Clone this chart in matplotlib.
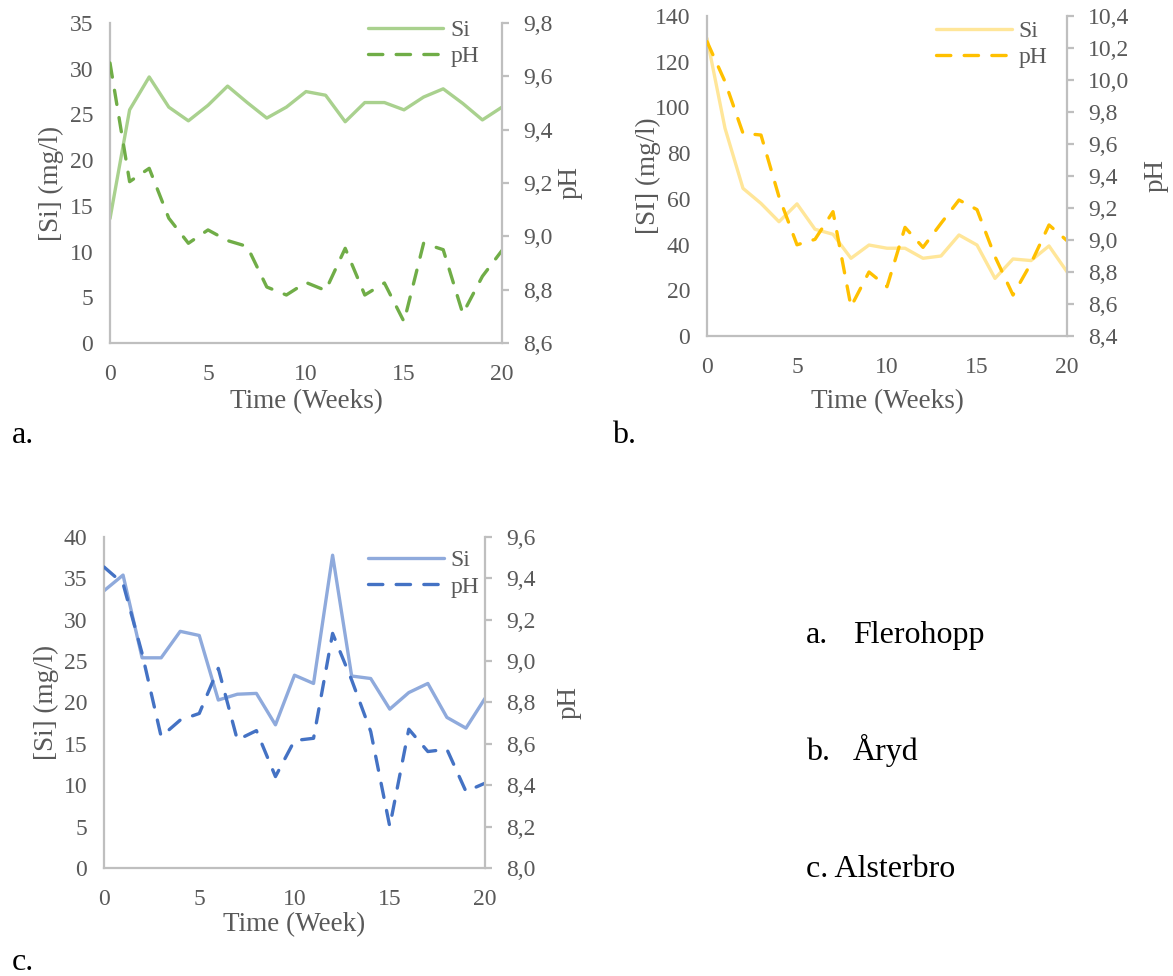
import numpy as np
from matplotlib import pyplot as plt

plt.rcParams['font.family'] = ['Liberation Serif', 'DejaVu Serif']

weeks = np.arange(0, 21)

# Flerohopp
si_a = [13.6, 25.5, 29.1, 25.8, 24.3, 26.0, 28.1, 26.3, 24.6, 25.8, 27.5,
        27.1, 24.2, 26.3, 26.3, 25.5, 26.9, 27.8, 26.2, 24.4, 25.8]
ph_a = [9.65, 9.205, 9.255, 9.068, 8.974, 9.024, 8.984, 8.962, 8.81, 8.78, 8.827,
        8.797, 8.955, 8.78, 8.825, 8.68, 8.974, 8.95, 8.71, 8.85, 8.947]

# Åryd
si_b = [130.2, 90.9, 64.6, 58.0, 50.0, 57.8, 46.7, 44.5, 34.0, 39.8, 38.4,
        38.4, 34.0, 35.0, 44.2, 39.8, 25.2, 33.7, 33.0, 39.4, 28.1]
ph_b = [10.24, 9.99, 9.667, 9.656, 9.27, 8.97, 9.004, 9.177, 8.583, 8.80, 8.708,
        9.079, 8.954, 9.104, 9.25, 9.19, 8.896, 8.656, 8.854, 9.094, 8.996]

# Alsterbro
si_c = [33.5, 35.4, 25.4, 25.4, 28.6, 28.1, 20.3, 21.0, 21.1, 17.3, 23.3,
        22.3, 37.8, 23.2, 22.9, 19.2, 21.2, 22.3, 18.2, 16.9, 20.5]
ph_c = [9.455, 9.375, 9.037, 8.635, 8.715, 8.747, 8.965, 8.619, 8.664, 8.442, 8.616,
        8.627, 9.134, 8.909, 8.66, 8.201, 8.671, 8.563, 8.574, 8.37, 8.41]

W, H = 1173, 976
fig = plt.figure(figsize=(W / 100, H / 100), dpi=100)

grey = '#595959'
spine = '#BFBFBF'


def panel(box, si, ph, si_lim, ph_lim, si_color, ph_color, ylabel, xlabel,
          leg_anchor, lab_left, lab_right, lab_bottom):
    l, r, t, b = box
    ax = fig.add_axes([l / W, 1 - b / H, (r - l) / W, (b - t) / H])
    ax2 = ax.twinx()
    line1, = ax.plot(weeks, si, color=si_color, lw=2.4, solid_capstyle='round', label='Si')
    line2, = ax2.plot(weeks, ph, color=ph_color, lw=2.4, dashes=(4.3, 4.0),
                      dash_capstyle='round', label='pH')
    ax.set_xlim(0, 20)
    ax.set_xticks([0, 5, 10, 15, 20])
    ax.set_yticks(np.arange(si_lim[0], si_lim[1] + 1, si_lim[2]))
    ax.set_ylim(si_lim[0], si_lim[1])
    pt = np.round(np.arange(ph_lim[0], ph_lim[1] + 0.001, 0.2), 1)
    ax2.set_yticks(pt)
    ax2.set_yticklabels([f'{v:.1f}'.replace('.', ',') for v in pt])
    ax2.set_ylim(*ph_lim)
    for a in (ax, ax2):
        for s in a.spines.values():
            s.set_visible(False)
    ax.spines['left'].set_visible(True)
    ax.spines['bottom'].set_visible(True)
    ax2.spines['right'].set_visible(True)
    for s in (ax.spines['left'], ax.spines['bottom'], ax2.spines['right']):
        s.set_color(spine)
        s.set_linewidth(1.6)
    ax.tick_params(axis='both', length=0, labelsize=17, labelcolor=grey)
    ax.tick_params(axis='y', pad=12)
    ax.tick_params(axis='x', pad=15)
    ax2.tick_params(axis='y', length=5, width=1.6, color=spine, direction='out',
                    labelsize=17, labelcolor=grey, pad=10)
    ax.set_ylabel(ylabel, fontsize=19.5, color=grey, va='center')
    ax.yaxis.set_label_coords(lab_left, 0.5)
    ax2.set_ylabel('pH', fontsize=19.5, color=grey, va='center')
    ax2.yaxis.set_label_coords(lab_right, 0.5)
    ax.set_xlabel(xlabel, fontsize=19.5, color=grey, va='center')
    ax.xaxis.set_label_coords(0.5, lab_bottom)
    ax.legend([line1, line2], ['Si', 'pH'], loc='upper right', bbox_to_anchor=leg_anchor,
              frameon=False, fontsize=17, handlelength=3.2, handletextpad=0.3,
              labelspacing=0.2, borderaxespad=0, labelcolor=grey)
    return ax


panel((110, 502, 23, 343), si_a, ph_a, (0, 35, 5), (8.6, 9.8),
      '#A9D18E', '#70AD47', '[Si] (mg/l)', 'Time (Weeks)', (0.966, 1.04),
      -0.1505, 1.173, -0.184)
panel((707, 1067, 16, 336), si_b, ph_b, (0, 140, 20), (8.4, 10.4),
      '#FFE699', '#FFC000', '[SI] (mg/l)', 'Time (Weeks)', (0.972, 1.015),
      -0.164, 1.247, -0.206)
panel((104, 485, 537, 868), si_c, ph_c, (0, 40, 5), (8.0, 9.6),
      '#8FAADC', '#4472C4', '[Si] (mg/l)', 'Time (Week)', (1.01, 0.99),
      -0.152, 1.22, -0.17)

# panel captions and site names
txt = dict(fontsize=23, color='black', va='baseline', ha='left')
fig.text(12 / W, 1 - 443 / H, 'a.', **txt)
fig.text(612 / W, 1 - 443 / H, 'b.', **txt)
fig.text(12 / W, 1 - 970 / H, 'c.', **txt)
fig.text(806 / W, 1 - 643 / H, 'a.', **txt)
fig.text(853 / W, 1 - 643 / H, 'Flerohopp', **txt)
fig.text(806 / W, 1 - 760 / H, 'b.', **txt)
fig.text(853 / W, 1 - 760 / H, 'Åryd', **txt)
fig.text(806 / W, 1 - 877 / H, 'c. Alsterbro', **txt)

fig.savefig('out.png', dpi=100)
